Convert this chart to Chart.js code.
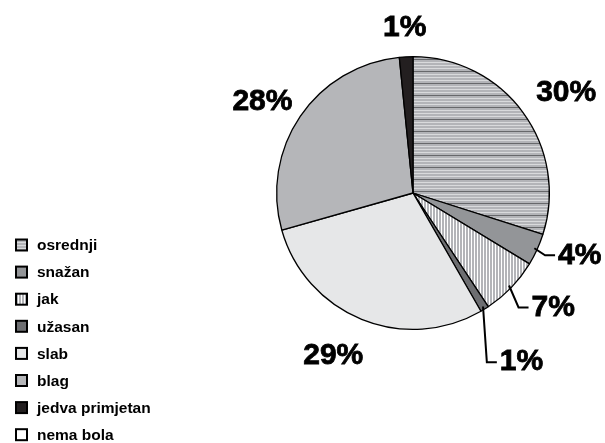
<!DOCTYPE html>
<html>
<head>
<meta charset="utf-8">
<script src="https://cdn.jsdelivr.net/npm/chart.js@4/dist/chart.umd.min.js"></script>
<style>
  html, body { margin: 0; padding: 0; background: #fff; }
  canvas { display: block; }
</style>
</head>
<body>
<canvas id="myChart" width="605" height="443"></canvas>
<script>
const categories = ['osrednji', 'snažan', 'jak', 'užasan', 'slab', 'blag', 'jedva primjetan', 'nema bola'];
const values     = [29.9, 3.8, 7.0, 1.0, 28.9, 27.8, 1.6, 0];
const pctLabels  = ['30%', '4%', '7%', '1%', '29%', '28%', '1%', '0%'];

// label placement: distance from centre and small angle shift (deg), leader line yes/no
const labelDist  = [183, 178, 181, 201, 181, 176, 165, 0];
const labelShift = [3, -4, -4.7, -1, 4, -3, 0, 0];
const leader     = [false, true, true, true, false, false, false, false];

function stripes(w, h, draw){
    const c = document.createElement('canvas');
    c.width = w; c.height = h;
    const g = c.getContext('2d');
    draw(g);
    return document.getElementById('myChart').getContext('2d').createPattern(c, 'repeat');
}

const horizPattern = stripes(4, 12, g => {
    g.fillStyle = '#b3b4b8';
    g.fillRect(0, 0, 4, 12);
    g.fillStyle = '#d9dadc';
    [2, 5, 8].forEach(y => g.fillRect(0, y, 4, 1));
    g.fillStyle = '#67686b';
    g.fillRect(0, 11, 4, 1);
});

const vertPattern = stripes(3, 4, g => {
    g.fillStyle = '#b3b4b8';
    g.fillRect(0, 0, 3, 4);
    g.fillStyle = '#ffffff';
    g.fillRect(0, 0, 1, 4);
});

const colors = [horizPattern, '#939598', vertPattern, '#6d6e71', '#e6e7e8', '#b5b6b9', '#231f20', '#ffffff'];

const FONT = '"Liberation Sans", Arial, sans-serif';

const pieLabels = {
    id: 'pieLabels',
    afterDatasetsDraw(chart){
        const ctx = chart.ctx;
        const meta = chart.getDatasetMeta(0);
        ctx.save();
        ctx.font = 'bold 30px ' + FONT;
        ctx.fillStyle = '#000';
        ctx.strokeStyle = '#000';
        ctx.textAlign = 'center';
        ctx.textBaseline = 'middle';
        meta.data.forEach((arc, i) => {
            if (!values[i]) return;
            const p = arc.getProps(['x', 'y', 'startAngle', 'endAngle', 'outerRadius'], true);
            const mid = (p.startAngle + p.endAngle) / 2;
            const a = mid + labelShift[i] * Math.PI / 180;
            const lx = p.x + Math.cos(a) * labelDist[i];
            const ly = p.y + Math.sin(a) * labelDist[i];
            ctx.lineWidth = 0.8;
            ctx.fillText(pctLabels[i], lx, ly);
            ctx.strokeText(pctLabels[i], lx, ly);
            if (leader[i]){
                const w = ctx.measureText(pctLabels[i]).width;
                const left = lx - w / 2;
                const sx = p.x + Math.cos(mid) * (p.outerRadius - 3);
                const sy = p.y + Math.sin(mid) * (p.outerRadius - 3);
                ctx.beginPath();
                ctx.lineWidth = 2;
                ctx.moveTo(sx, sy);
                ctx.lineTo(left - 13, ly);
                ctx.lineTo(left - 3, ly);
                ctx.stroke();
            }
        });
        ctx.restore();
    }
};

const sideLegend = {
    id: 'sideLegend',
    afterDraw(chart){
        const ctx = chart.ctx;
        const ds = chart.data.datasets[0];
        ctx.save();
        ctx.font = 'bold 15.5px ' + FONT;
        ctx.textBaseline = 'middle';
        ctx.textAlign = 'left';
        chart.data.labels.forEach((lab, i) => {
            const y = 245 + i * 27.1;
            ctx.fillStyle = ds.backgroundColor[i];
            ctx.fillRect(16, y - 5.5, 11, 11);
            ctx.lineWidth = 2;
            ctx.strokeStyle = '#000';
            ctx.strokeRect(16, y - 5.5, 11, 11);
            ctx.fillStyle = '#000';
            ctx.fillText(lab, 37, y + 1);
        });
        ctx.restore();
    }
};

const myChart = document.getElementById('myChart');
const pieChart = new Chart(myChart, {
    type: 'pie',
    data: {
        labels: categories,
        datasets: [{
            data: values,
            backgroundColor: colors,
            borderColor: '#000000',
            borderWidth: 1.3
        }]
    },
    options: {
        responsive: false,
        devicePixelRatio: 1,
        animation: false,
        layout: { padding: { left: 276, right: 55, top: 56, bottom: 113 } },
        plugins: {
            legend: { display: false },
            tooltip: { enabled: false }
        }
    },
    plugins: [pieLabels, sideLegend]
});
</script>
</body>
</html>
